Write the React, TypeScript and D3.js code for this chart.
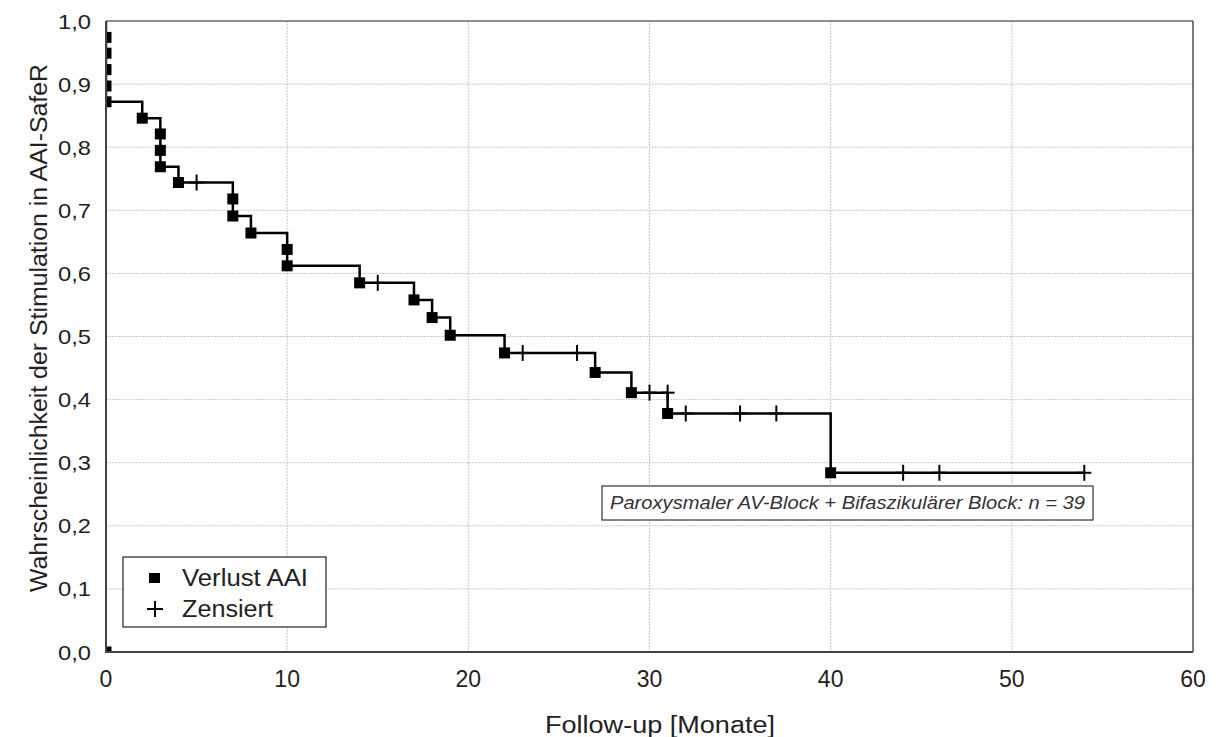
import React from 'react';
import * as d3 from 'd3';

// step curve (Kaplan-Meier estimate)
const curveTimes = [0, 0, 2, 3, 4, 7, 8, 10, 14, 17, 18, 19, 22, 27, 29, 31, 40, 54];
const curveSurv = [1.0, 0.872, 0.846, 0.769, 0.744, 0.691, 0.664, 0.612, 0.585, 0.558, 0.53, 0.502, 0.474, 0.443, 0.411, 0.378, 0.284, 0.284];

// events (Verlust AAI)
const eventTimes = [0, 0, 0, 0, 0, 0, 2, 3, 3, 3, 4, 7, 7, 8, 10, 10, 14, 17, 18, 19, 22, 27, 29, 31, 40];
const eventSurv = [0.974, 0.949, 0.923, 0.897, 0.872, 0.0, 0.846, 0.821, 0.795, 0.769, 0.744, 0.718, 0.691, 0.664, 0.638, 0.612, 0.585, 0.558, 0.53, 0.502, 0.474, 0.443, 0.411, 0.378, 0.284];

// censored (Zensiert)
const censTimes = [5, 15, 23, 26, 30, 31, 32, 35, 37, 44, 46, 54];
const censSurv = [0.744, 0.585, 0.474, 0.474, 0.411, 0.411, 0.378, 0.378, 0.378, 0.284, 0.284, 0.284];

const xTicks = [0, 10, 20, 30, 40, 50, 60];
const yTicks = [0, 0.1, 0.2, 0.3, 0.4, 0.5, 0.6, 0.7, 0.8, 0.9, 1.0];

const legendLabels = ['Verlust AAI', 'Zensiert'];
const annotation = 'Paroxysmaler AV-Block + Bifaszikulärer Block: n = 39';

const width = 1216;
const height = 737;
const margin = { top: 21, right: 23, bottom: 85, left: 106 };
const font = '"Liberation Sans", Arial, sans-serif';
const ink = '#222';

export default function App() {
  const x = d3.scaleLinear().domain([0, 60]).range([margin.left, width - margin.right]);
  const y = d3.scaleLinear().domain([0, 1]).range([height - margin.bottom, margin.top]);

  const line = d3
    .line<number>()
    .x((d, i) => x(curveTimes[i]))
    .y((d) => y(d))
    .curve(d3.curveStepAfter);

  const fmt = (v: number) => v.toFixed(1).replace('.', ',');
  const x0 = x(0);
  const x1 = x(60);
  const y0 = y(0);
  const y1 = y(1);
  const sq = 11;

  return (
    <svg width={width} height={height} style={{ display: 'block', position: 'absolute', left: 0, top: 0, background: '#fff' }}>
      <defs>
        <clipPath id="plot-clip">
          <rect x={x0} y={y1} width={x1 - x0} height={y0 - y1} />
        </clipPath>
      </defs>

      {/* grid */}
      {xTicks.slice(1, -1).map((t) => (
        <line key={'gx' + t} x1={x(t)} x2={x(t)} y1={y1} y2={y0} stroke="#c8c8c8" strokeWidth={1} strokeDasharray="2,1" />
      ))}
      {yTicks.slice(1, -1).map((t) => (
        <line key={'gy' + t} x1={x0} x2={x1} y1={y(t)} y2={y(t)} stroke="#c8c8c8" strokeWidth={1} strokeDasharray="2,1" />
      ))}

      {/* frame */}
      <line x1={x0} x2={x1} y1={y1} y2={y1} stroke="#222" strokeWidth={1} />
      <line x1={x1} x2={x1} y1={y1} y2={y0} stroke="#222" strokeWidth={1.2} />

      <g clipPath="url(#plot-clip)">
        <path d={line(curveSurv) || ''} fill="none" stroke="#000" strokeWidth={2.5} />
        {eventTimes.map((t, i) => (
          <rect key={'e' + i} x={x(t) - sq / 2} y={y(eventSurv[i]) - sq / 2} width={sq} height={sq} fill="#000" />
        ))}
      </g>
      {censTimes.map((t, i) => (
        <g key={'c' + i} stroke="#000" strokeWidth={2}>
          <line x1={x(t)} x2={x(t)} y1={y(censSurv[i]) - 8} y2={y(censSurv[i]) + 8} />
          <line x1={x(t) - 7} x2={x(t) + 7} y1={y(censSurv[i])} y2={y(censSurv[i])} />
        </g>
      ))}

      {/* axes */}
      <line x1={x0} x2={x0} y1={y1} y2={y0 + 1} stroke="#444" strokeWidth={2} />
      <line x1={x0 - 1} x2={x1} y1={y0} y2={y0} stroke="#444" strokeWidth={2} />

      {yTicks.map((t) => (
        <text key={'ty' + t} x={x0 - 15} y={y(t) + 7.5} textAnchor="end" fontFamily={font} fontSize={21} fill={ink} textLength={33} lengthAdjust="spacingAndGlyphs">
          {fmt(t)}
        </text>
      ))}
      {xTicks.map((t) => (
        <text key={'tx' + t} x={x(t)} y={y0 + 35} textAnchor="middle" fontFamily={font} fontSize={23} fill={ink}>
          {t}
        </text>
      ))}

      <text x={660} y={733} textAnchor="middle" fontFamily={font} fontSize={23} fill={ink} textLength={230} lengthAdjust="spacingAndGlyphs">
        Follow-up [Monate]
      </text>
      <text
        transform={`translate(47,328) rotate(-90)`}
        textAnchor="middle"
        fontFamily={font}
        fontSize={23}
        fill={ink}
        textLength={528}
        lengthAdjust="spacingAndGlyphs"
      >
        Wahrscheinlichkeit der Stimulation in AAI-SafeR
      </text>

      {/* legend */}
      <g>
        <rect x={123} y={557} width={203} height={70} fill="#fff" stroke="#222" strokeWidth={1.2} />
        <rect x={149} y={573} width={11} height={10} fill="#000" />
        <g stroke="#000" strokeWidth={2}>
          <line x1={155} x2={155} y1={601} y2={617} />
          <line x1={147} x2={163} y1={609} y2={609} />
        </g>
        <text x={182} y={586} fontFamily={font} fontSize={23} fill={ink} textLength={126} lengthAdjust="spacingAndGlyphs">
          {legendLabels[0]}
        </text>
        <text x={182} y={617} fontFamily={font} fontSize={23} fill={ink} textLength={91} lengthAdjust="spacingAndGlyphs">
          {legendLabels[1]}
        </text>
      </g>

      {/* annotation */}
      <g>
        <rect x={602} y={486} width={491} height={34} fill="#fff" stroke="#333" strokeWidth={1.2} />
        <text x={610} y={509} fontFamily={font} fontSize={18} fontStyle="italic" fill="#333" textLength={475} lengthAdjust="spacingAndGlyphs">
          {annotation}
        </text>
      </g>
    </svg>
  );
}
